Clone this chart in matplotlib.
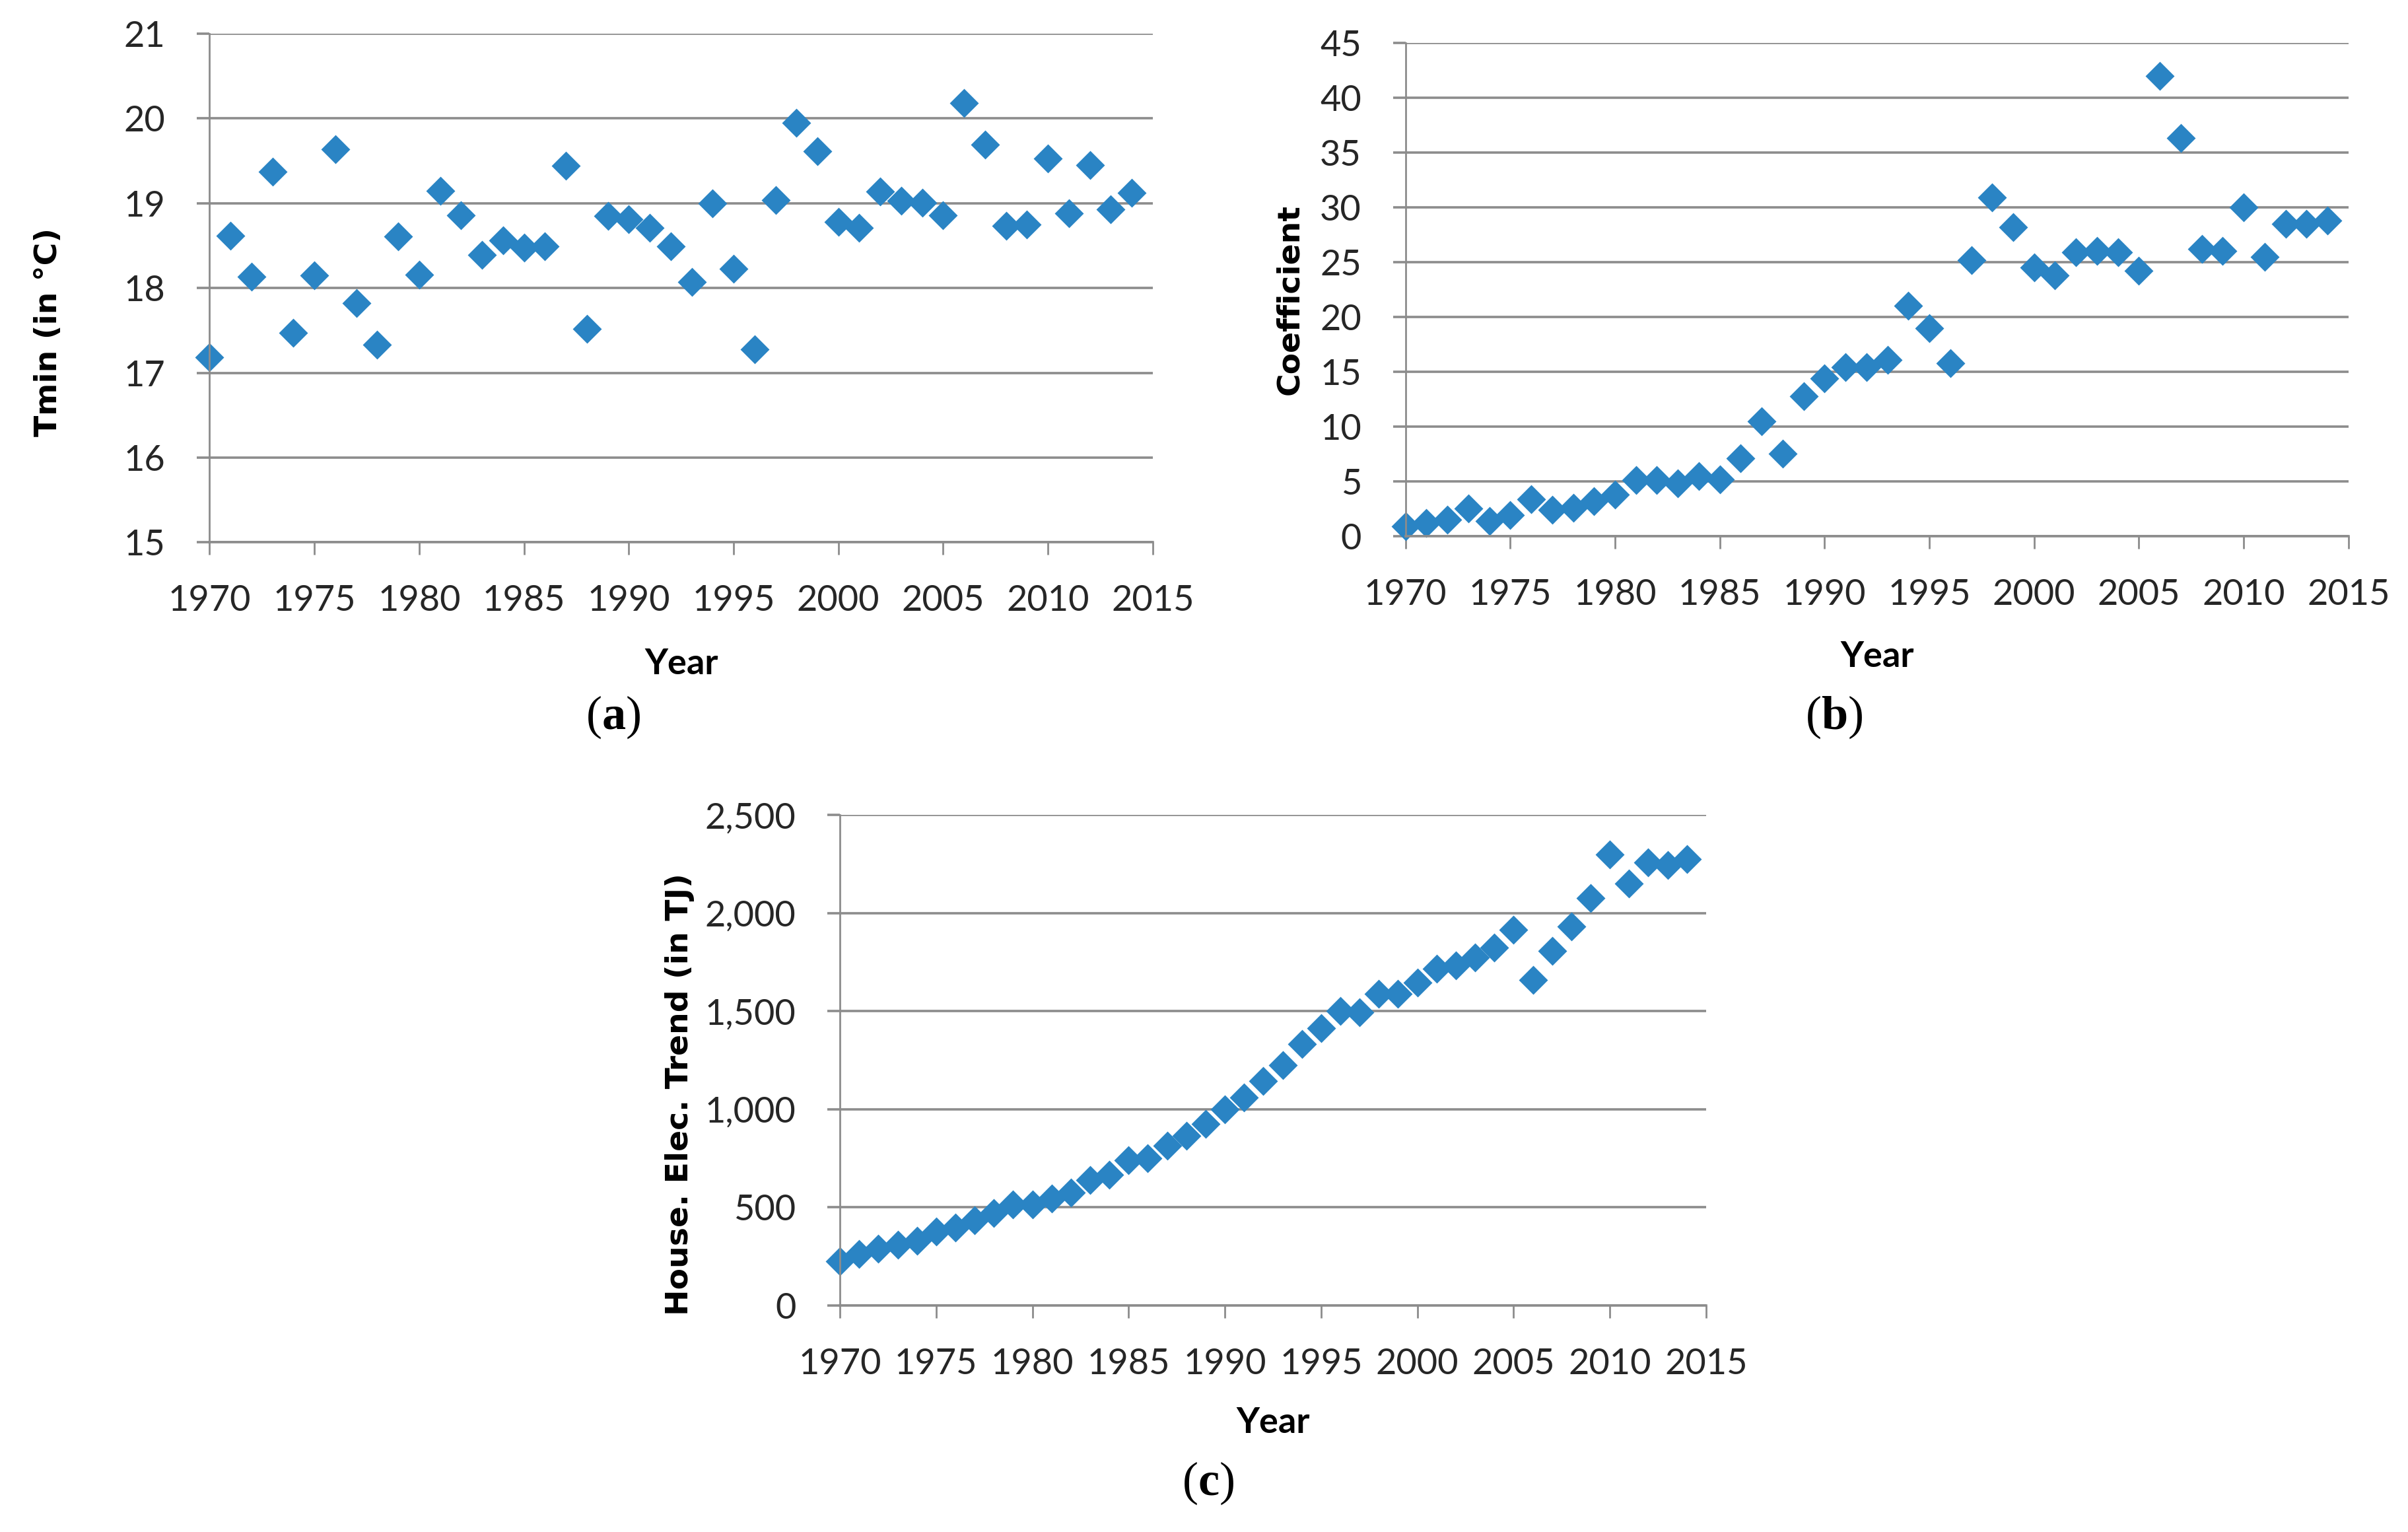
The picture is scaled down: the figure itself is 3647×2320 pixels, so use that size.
import matplotlib
matplotlib.use("Agg")
import matplotlib.pyplot as plt
from matplotlib.ticker import FuncFormatter

plt.rcParams["mathtext.fontset"] = "custom"
plt.rcParams["mathtext.rm"] = "Liberation Serif"
plt.rcParams["mathtext.bf"] = "Liberation Serif:bold"

years = list(range(1970, 2015))

tmin = [17.18, 18.62, 18.13, 19.37, 17.47, 18.15, 19.64, 17.82, 17.33, 18.61,
        18.16, 19.15, 18.86, 18.39, 18.56, 18.48, 18.49, 19.44, 17.52, 18.85,
        18.81, 18.71, 18.49, 18.07, 19.00, 18.23, 17.28, 19.04, 19.95, 19.61,
        18.78, 18.71, 19.14, 19.03, 19.01, 18.86, 20.18, 19.69, 18.73, 18.75,
        19.53, 18.88, 19.45, 18.93, 19.12]

coefficient = [0.9, 1.2, 1.5, 2.5, 1.4, 1.9, 3.4, 2.4, 2.6, 3.2,
               3.8, 5.1, 5.1, 4.8, 5.5, 5.2, 7.1, 10.5, 7.5, 12.8,
               14.4, 15.4, 15.4, 16.1, 21.0, 19.0, 15.8, 25.2, 30.9, 28.2,
               24.5, 23.8, 25.9, 26.0, 25.9, 24.2, 42.0, 36.3, 26.2, 26.0,
               30.0, 25.5, 28.5, 28.5, 28.8]

house_elec = [225, 260, 288, 308, 328, 375, 395, 433, 470, 515,
              515, 545, 575, 640, 665, 740, 750, 815, 865, 925,
              1000, 1058, 1145, 1225, 1333, 1413, 1500, 1495, 1588, 1588,
              1645, 1715, 1733, 1775, 1825, 1915, 1658, 1808, 1933, 2075,
              2300, 2150, 2258, 2245, 2275]

x_ticks = list(range(1970, 2016, 5))

BLUE = "#2A84C4"
GRID = "#8C8C8C"
TICK_FONT = "Lato"


def style_axes(ax, ylim, yticks, ylabel, ylabel_xy, xlabel_y, fmt=None):
    ax.set_xlim(1970, 2015)
    ax.set_ylim(*ylim)
    ax.set_xticks(x_ticks)
    ax.set_yticks(yticks)
    if fmt is not None:
        ax.yaxis.set_major_formatter(fmt)
    ax.grid(axis="y", color=GRID, linewidth=1.3)
    ax.set_axisbelow(True)
    for side in ["top", "right"]:
        ax.spines[side].set_visible(False)
    ax.spines["left"].set_color(GRID)
    ax.spines["bottom"].set_color(GRID)
    ax.spines["left"].set_linewidth(1.0)
    ax.spines["bottom"].set_linewidth(1.3)
    ax.tick_params(axis="x", direction="out", length=7, width=1.0, color=GRID,
                   pad=16, labelsize=19.5, labelcolor="#262626")
    ax.tick_params(axis="y", direction="out", length=7, width=1.3, color=GRID,
                   pad=17, labelsize=19.5, labelcolor="#262626")
    for lab in ax.get_xticklabels() + ax.get_yticklabels():
        lab.set_fontfamily(TICK_FONT)
    ax.set_ylabel(ylabel, fontsize=17, fontweight="bold", family="DejaVu Sans")
    ax.yaxis.set_label_coords(*ylabel_xy)
    ax.set_xlabel("Year", fontsize=19.5, fontweight="bold", family=TICK_FONT)
    ax.xaxis.set_label_coords(0.5, xlabel_y)


fig = plt.figure(figsize=(18.24, 11.6), dpi=200)

ax_a = fig.add_axes([0.087, 0.646, 0.3916, 0.332])
ax_a.plot(years, tmin, "D", color=BLUE, markersize=10, clip_on=False)
style_axes(ax_a, (15, 21), range(15, 22), "Tmin (in \u00b0C)", (-0.155, 0.413), -0.208)

ax_b = fig.add_axes([0.5835, 0.650, 0.3915, 0.322])
ax_b.plot(years, coefficient, "D", color=BLUE, markersize=10, clip_on=False)
style_axes(ax_b, (0, 45), range(0, 46, 5), "Coefficient", (-0.107, 0.48), -0.211)

ax_c = fig.add_axes([0.3487, 0.148, 0.3596, 0.320])
ax_c.plot(years, house_elec, "D", color=BLUE, markersize=10, clip_on=False)
style_axes(ax_c, (0, 2500), range(0, 2501, 500), "House. Elec. Trend (in TJ)",
           (-0.168, 0.43), -0.206, fmt=FuncFormatter(lambda v, p: f"{int(v):,}"))

for letter, x, y in [("a", 0.2546, 0.532), ("b", 0.7613, 0.532), ("c", 0.5016, 0.032)]:
    fig.text(x, y, "(" + r"$\mathbf{" + letter + "}$" + ")", ha="center", va="center",
             fontsize=26, family="Liberation Serif")

fig.savefig("out.png", dpi=200)
